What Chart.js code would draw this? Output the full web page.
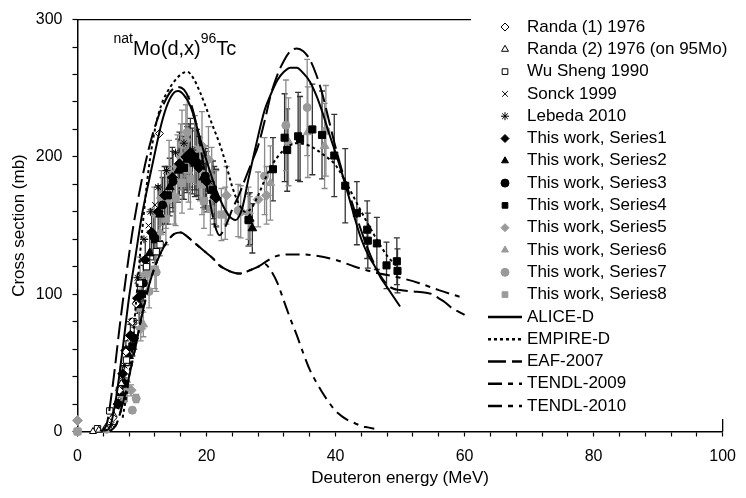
<!DOCTYPE html>
<html>
<head>
<meta charset="utf-8">
<script src="https://cdn.jsdelivr.net/npm/chart.js@4.4.1/dist/chart.umd.min.js"></script>
<style>
  html, body { margin: 0; padding: 0; background: #fff; }
  #grafico { display: block; }
</style>
</head>
<body>
<canvas id="grafico" width="746" height="498"></canvas>
<script>
// medidas: [energia (MeV), secao de choque (mb), erro (mb)]
const randa1 = [[5.5, 10], [6.5, 30], [7.5, 58], [8.5, 80], [9.1, 93], [12.7, 217]];
const randa2 = [[2.4, 0], [3.3, 1], [4.4, 3], [5.6, 12], [6.8, 35]];
const wuSheng = [[3.1, 2], [5.0, 15], [6.5, 30], [7.6, 52], [8.6, 80], [9.6, 108], [10.7, 120], [12.2, 131], [12.8, 136]];
const sonck = [[6.0, 18], [7.0, 40], [8.0, 68], [9.0, 96], [10.0, 125], [11.0, 150], [12.0, 165]];
const lebeda = [[5.3, 5], [6.3, 22], [7.3, 48], [8.3, 80], [9.3, 112], [10.3, 140], [11.3, 160], [12.5, 178], [13.8, 190], [15.2, 203], [16.5, 210], [17.8, 205], [19.2, 195], [20.5, 182]];

const serie1 = [[6.3, 20, 3], [7.0, 42, 5], [7.5, 59, 7], [8.2, 70, 8], [9.3, 97, 11], [10.5, 125, 15], [11.5, 145, 17], [12.5, 160, 19], [13.5, 172, 21], [14.7, 185, 22], [15.8, 195, 23], [16.8, 200, 24], [17.5, 203, 25], [17.8, 197, 24], [18.8, 192, 23], [20.0, 182, 22], [21.5, 170, 21]];
const serie2 = [[6.8, 28, 3], [8.0, 55, 7], [9.6, 92, 11], [11.2, 130, 16], [12.8, 158, 19], [14.3, 178, 21], [15.6, 190, 23], [17.0, 198, 24], [18.2, 195, 24], [19.5, 185, 22], [21.2, 172, 21], [26.7, 155, 19], [27.1, 148, 18]];
const serie3 = [[7.3, 35, 4], [8.8, 68, 8], [10.2, 108, 13], [11.8, 142, 17], [13.2, 165, 20], [14.8, 182, 22], [16.3, 192, 23], [17.3, 200, 24], [18.5, 196, 24], [19.8, 186, 22]];
const serie4 = [[8.5, 62, 7], [10.0, 100, 12], [12.0, 140, 17], [14.0, 172, 21], [16.5, 192, 23], [18.2, 200, 24], [19.8, 184, 22], [21.0, 176, 21], [26.5, 154, 19], [30.3, 191, 23], [32.1, 214, 32], [32.5, 205, 30], [34.2, 215, 32], [34.5, 213, 31], [36.4, 220, 33], [37.9, 216, 32], [39.8, 201, 30], [41.5, 179, 27], [43.3, 159, 23], [44.9, 147, 21], [45.0, 139, 20], [46.4, 137, 19], [47.9, 121, 17], [49.5, 124, 17], [49.6, 117, 16]];
const serie5 = [[0, 8, 1], [8.3, 30, 4], [9.8, 75, 9], [11.9, 159, 19], [13.0, 170, 20], [14.2, 189, 23], [15.5, 193, 23], [16.0, 200, 24], [16.8, 212, 26], [18.2, 205, 25], [19.3, 208, 25], [20.3, 198, 24], [23.1, 172, 21], [26.5, 159, 19], [28.0, 169, 20], [29.3, 172, 21]];
const serie6 = [[7.8, 32, 4], [10.2, 78, 9], [12.8, 145, 17], [15.0, 172, 21], [17.2, 190, 23], [19.0, 191, 23], [21.5, 170, 20], [22.9, 159, 19], [26.7, 153, 18], [29.9, 181, 27], [32.7, 211, 32], [35.7, 218, 33], [38.3, 208, 31]];
const serie7 = [[0, 0, 0], [4.5, 1.6, 0], [8.5, 15.5, 2], [9.1, 24, 3], [9.7, 113, 14], [10.8, 115, 14], [11.1, 102, 12], [12.2, 116, 14], [13.7, 168, 20], [16.2, 209, 25], [17.0, 218, 26], [20.8, 185, 22], [24.9, 161, 19], [25.3, 160, 19], [29.0, 186, 28], [32.3, 223, 33], [35.6, 236, 35], [38.5, 219, 33]];
const serie8 = [[0, 0, 0], [7.2, 24, 3], [9.5, 90, 11], [12.0, 118, 14], [13.7, 155, 19], [15.2, 170, 20], [16.2, 181, 22], [17.5, 184, 22], [19.3, 180, 22], [19.6, 168, 20], [20.6, 162, 19], [22.3, 158, 19]];

// calculos teoricos: [energia (MeV), secao de choque (mb)]
const aliceD = [[4, 0], [5, 3], [6, 25], [7, 60], [8, 98], [9, 128], [10, 158], [11, 181], [12, 203], [13, 224], [14, 239], [15, 247], [15.6, 248], [16.5, 245], [17.5, 237], [18.5, 222], [19.5, 205], [20.5, 190], [21.5, 176], [22.5, 165], [23.5, 157], [24.5, 154], [25.5, 162], [26.5, 184], [27.5, 205], [29, 234], [30, 246], [31, 256], [32, 262], [33, 265], [34, 265], [35, 261], [36, 255], [37, 245], [38, 232], [39, 217], [40, 203], [41, 188], [42, 172], [43, 155], [44, 140], [45, 129], [46, 121], [47, 112], [48, 105], [49, 98], [50, 91]];
const empireD = [[7, 10], [8, 40], [9, 90], [10, 145], [11, 190], [12, 220], [13, 238], [14, 248], [15, 255], [16, 260], [17, 262], [18, 257], [19, 247], [20, 235], [21, 222], [22, 210], [23, 195], [24, 178], [25, 166], [26, 160], [27, 163], [28, 172], [29, 183], [30, 193], [32, 205], [34, 210], [36, 208], [38, 202], [40, 194], [42, 178], [44, 160], [46, 143], [48, 128], [50, 118]];
const eaf2007 = [[3.5, 0], [4.5, 5], [5.5, 35], [6.5, 75], [7.5, 112], [8.5, 145], [9.5, 172], [10.5, 195], [11.5, 214], [12.5, 229], [13.5, 240], [14.5, 248], [15.5, 251], [16.5, 249], [17.5, 240], [18.5, 222], [19.5, 195], [20.5, 168], [21.3, 150], [22, 143], [23, 150], [24, 162], [25, 172], [26, 184], [27, 196], [28, 208], [29, 226], [30, 246], [31, 260], [32, 270], [33, 277], [34, 279], [35, 277], [36, 271], [37, 260], [38, 245], [39, 226], [40, 207], [41, 190], [42, 175], [43, 160], [44, 146], [45, 133], [46, 122], [47, 113], [48, 107], [49, 104], [50, 103], [52, 102], [54, 101], [55, 100], [56, 97], [57, 94], [58, 90], [60, 85]];
const tendl2009 = [[5, 0], [6, 5], [7, 20], [8, 40], [9, 62], [10, 85], [11, 105], [12, 120], [13, 131], [14, 139], [15, 144], [16, 145], [17, 142], [18, 138], [19, 134], [20, 130], [21, 126], [22, 121], [23, 118], [24, 116], [25, 115], [26, 116], [27, 118], [28, 120], [29, 122], [30, 117], [31, 108], [32, 95], [33, 82], [34, 70], [35, 57], [36, 45], [37, 36], [38, 28], [39, 21], [40, 15], [41, 11], [42, 8], [43, 6], [44, 4], [45, 3], [46, 2]];
const tendl2010 = [[5, 0], [6, 5], [7, 20], [8, 40], [9, 62], [10, 85], [11, 105], [12, 120], [13, 131], [14, 139], [15, 144], [16, 145], [17, 142], [18, 138], [19, 134], [20, 130], [21, 126], [22, 121], [23, 118], [24, 116], [25, 115], [26, 116], [27, 118], [28, 120], [29, 123], [30, 126], [31, 128], [33, 129], [35, 129], [37, 128], [40, 125], [43, 120], [46, 116], [50, 112], [53, 108], [56, 103], [60, 97]];

const fonte = '"Liberation Sans", Arial, sans-serif';
Chart.defaults.font.family = fonte;
Chart.defaults.color = '#000';

const preto = '#000';
const cinza = '#9a9a9a';

function pontos(serie) {
    return serie.map(p => ({ x: p[0], y: p[1] }));
}

function medida(label, serie, estilo, cor, aberto, raio) {
    return {
        label: label,
        data: pontos(serie),
        erros: serie.map(p => p[2] || 0),
        corErro: cor === preto ? '#333' : '#8a8a8a',
        showLine: false,
        pointStyle: estilo,
        pointRadius: raio,
        pointBackgroundColor: aberto ? '#fff' : cor,
        pointBorderColor: cor,
        pointBorderWidth: 1,
        backgroundColor: aberto ? '#fff' : cor,
        borderColor: cor,
        clip: false,
        order: 2
    };
}

function curva(label, serie, tracejado, deslocamento) {
    return {
        label: label,
        data: pontos(serie),
        showLine: true,
        borderColor: preto,
        borderWidth: 2,
        borderDash: tracejado,
        borderDashOffset: deslocamento || 0,
        pointRadius: 0,
        cubicInterpolationMode: 'monotone',
        fill: false,
        order: 1
    };
}

const datasets = [
    medida('Randa (1) 1976', randa1, 'rectRot', preto, true, 4),
    medida('Randa (2) 1976 (on 95Mo)', randa2, 'triangle', preto, true, 4),
    medida('Wu Sheng 1990', wuSheng, 'rect', preto, true, 4.5),
    medida('Sonck 1999', sonck, 'crossRot', preto, false, 4),
    medida('Lebeda 2010', lebeda, 'star', preto, false, 4),
    medida('This work, Series1', serie1, 'rectRot', preto, false, 5),
    medida('This work, Series2', serie2, 'triangle', preto, false, 5),
    medida('This work, Series3', serie3, 'circle', preto, false, 4),
    medida('This work, Series4', serie4, 'rect', preto, false, 5),
    medida('This work, Series5', serie5, 'rectRot', cinza, false, 5),
    medida('This work, Series6', serie6, 'triangle', cinza, false, 5),
    medida('This work, Series7', serie7, 'circle', cinza, false, 4),
    medida('This work, Series8', serie8, 'rect', cinza, false, 5),
    curva('ALICE-D', aliceD, []),
    curva('EMPIRE-D', empireD, [3, 3]),
    curva('EAF-2007', eaf2007, [18, 6]),
    curva('TENDL-2009', tendl2009, [14, 6, 5, 6], 12),
    curva('TENDL-2010', tendl2010, [14, 6, 5, 6])
];

// barras de erro e moldura, desenhadas antes das series
const barrasErro = {
    id: 'barrasErro',
    beforeDatasetsDraw(chart) {
        const { ctx, chartArea, scales: { x, y } } = chart;
        ctx.save();

        // moldura de cima e da direita
        ctx.strokeStyle = preto;
        ctx.lineWidth = 1.3;
        ctx.beginPath();
        ctx.moveTo(chartArea.left, chartArea.top);
        ctx.lineTo(chartArea.right, chartArea.top);
        ctx.lineTo(chartArea.right, chartArea.bottom);
        ctx.stroke();

        chart.data.datasets.forEach(ds => {
            if (!ds.erros) return;
            ctx.strokeStyle = ds.corErro;
            ds.data.forEach((p, i) => {
                const e = ds.erros[i];
                if (!e) return;
                const px = x.getPixelForValue(p.x);
                const y1 = y.getPixelForValue(p.y - e);
                const y2 = y.getPixelForValue(p.y + e);
                ctx.beginPath();
                ctx.moveTo(px, y1); ctx.lineTo(px, y2);
                ctx.moveTo(px - 3, y1); ctx.lineTo(px + 3, y1);
                ctx.moveTo(px - 3, y2); ctx.lineTo(px + 3, y2);
                ctx.stroke();
            });
        });
        ctx.restore();
    }
};

// reacao no canto superior esquerdo
const rotuloReacao = {
    id: 'rotuloReacao',
    afterDatasetsDraw(chart) {
        const { ctx, chartArea } = chart;
        let x = chartArea.left + 36;
        const base = chartArea.top + 35;
        const partes = [
            ['nat', 14, -12],
            ['Mo(d,x)', 20, 0],
            ['96', 14, -12],
            ['Tc', 20, 0]
        ];
        ctx.save();
        ctx.fillStyle = preto;
        ctx.textBaseline = 'alphabetic';
        ctx.textAlign = 'left';
        partes.forEach(([txt, tam, desl]) => {
            ctx.font = `${tam}px ${fonte}`;
            ctx.fillText(txt, x, base + desl);
            x += ctx.measureText(txt).width;
        });
        ctx.restore();
    }
};

// legenda do lado direito, por cima da moldura
const legendaLateral = {
    id: 'legendaLateral',
    afterDraw(chart) {
        const ctx = chart.ctx;
        ctx.save();
        ctx.fillStyle = '#fff';
        ctx.fillRect(471, 0, 275, 419);

        ctx.font = `17px ${fonte}`;
        ctx.textBaseline = 'middle';
        ctx.textAlign = 'left';

        chart.data.datasets.forEach((ds, i) => {
            const yy = 27 + i * 22.3;
            if (ds.showLine) {
                ctx.strokeStyle = preto;
                ctx.lineWidth = 2.5;
                ctx.setLineDash(ds.borderDash);
                ctx.beginPath();
                ctx.moveTo(488, yy);
                ctx.lineTo(522, yy);
                ctx.stroke();
                ctx.setLineDash([]);
            } else {
                ctx.fillStyle = ds.pointBackgroundColor;
                ctx.strokeStyle = ds.pointBorderColor;
                ctx.lineWidth = 1;
                Chart.helpers.drawPoint(ctx, { pointStyle: ds.pointStyle, radius: 4, borderWidth: 1 }, 505, yy);
            }
            ctx.fillStyle = preto;
            ctx.fillText(ds.label, 527, yy);
        });
        ctx.restore();
    }
};

const grafico = new Chart(document.getElementById('grafico'), {
    type: 'scatter',
    data: { datasets: datasets },
    plugins: [barrasErro, rotuloReacao, legendaLateral],
    options: {
        responsive: false,
        devicePixelRatio: 1,
        animation: false,
        events: [],
        layout: { padding: { left: 0, right: 16.4, top: 15.7, bottom: 0 } },
        plugins: {
            legend: { display: false },
            tooltip: { enabled: false }
        },
        scales: {
            x: {
                type: 'linear',
                min: 0,
                max: 100,
                afterFit: s => { s.height = 66.5; },
                border: { color: preto, width: 1.5 },
                grid: { drawOnChartArea: false, tickLength: 5, tickColor: preto, tickWidth: 1.2 },
                ticks: {
                    stepSize: 4,
                    autoSkip: false,
                    maxRotation: 0,
                    padding: 10,
                    color: preto,
                    font: { size: 16 },
                    callback: v => v % 20 === 0 ? v : ''
                },
                title: {
                    display: true,
                    text: 'Deuteron energy (MeV)',
                    color: preto,
                    font: { size: 17 },
                    padding: { top: 0, bottom: 9 }
                }
            },
            y: {
                type: 'linear',
                min: 0,
                max: 300,
                afterFit: s => { s.width = 77.5; },
                border: { color: preto, width: 1.5 },
                grid: { drawOnChartArea: false, tickLength: 5, tickColor: preto, tickWidth: 1.2 },
                ticks: {
                    stepSize: 20,
                    autoSkip: false,
                    padding: 10,
                    color: preto,
                    font: { size: 16 },
                    callback: v => v % 100 === 0 ? v : ''
                },
                title: {
                    display: true,
                    text: 'Cross section (mb)',
                    color: preto,
                    font: { size: 17 },
                    padding: { top: 9, bottom: 0 }
                }
            }
        }
    }
});
</script>
</body>
</html>
